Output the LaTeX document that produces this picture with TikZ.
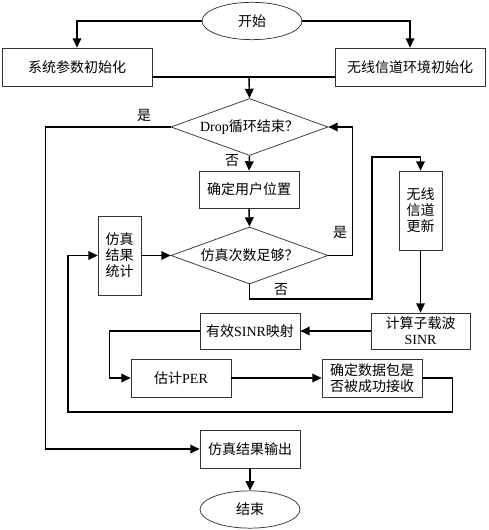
\documentclass[tikz,border=0pt]{standalone}
\usepackage{fontspec}
\setmainfont{Liberation Serif}
\newfontfamily\cjk{Noto Sans CJK SC}
\usetikzlibrary{arrows.meta, shapes.geometric}
\tikzset{
  box/.style = {rectangle, draw=black!80, line width=0.55pt, minimum width=75pt, minimum height=28.5pt, align=center, inner sep=0pt},
  widebox/.style = {box, minimum width=112.5pt},
  tallbox/.style = {box, minimum width=32.25pt, minimum height=59.25pt},
  term/.style = {ellipse, draw=black!80, line width=0.55pt, minimum width=75pt, minimum height=28pt, inner sep=0pt},
  cond/.style = {diamond, aspect=2.75, draw=black!80, line width=0.55pt, minimum width=117.75pt, minimum height=42.75pt, inner sep=0pt},
  conn/.style = {line width=1.1pt},
  arr/.style = {conn, -{Triangle[length=7pt, width=6.5pt]}},
  lbl/.style = {inner sep=0pt}
}

\begin{document}
\begin{tikzpicture}[x=0.75pt, y=-0.75pt, every node/.style={font=\cjk\fontsize{10.5}{12}\selectfont}]
\useasboundingbox (0,0) rectangle (488,530);
% Top
\node[term] (fcStart) at (252,21) {开始};
\node[widebox] (fcSys) at (77,67) {系统参数初始化};
\node[widebox] (fcChan) at (410,67) {无线信道环境初始化};

% Drop loop
\node[cond] (fcDrop) at (249.5,127) {{\rmfamily Drop}循环结束？};
\node[box, minimum height=27.75pt] (fcPos) at (249,189.5) {确定用户位置};
\node[cond] (fcEnough) at (249.5,255.5) {仿真次数足够？};
\node[tallbox] (fcStat) at (119.5,255.5) {仿真\\结果\\统计};
\node[tallbox] (fcUpd) at (420.5,210.5) {无线\\信道\\更新};

% Link level
\node[box, minimum width=74.25pt, minimum height=27pt] (fcSinr) at (420.5,331) {计算子载波\\{\rmfamily SINR}};
\node[box, minimum height=27pt] (fcEsm) at (250,331) {有效{\rmfamily SINR}映射};
\node[box] (fcPer) at (181,378) {估计{\rmfamily PER}};
\node[box] (fcRecv) at (372,378) {确定数据包是\\否被成功接收};

% Bottom
\node[box] (fcOut) at (250,449) {仿真结果输出};
\node[term] (fcStop) at (250,509.5) {结束};

% labels
\node[lbl] (lYes1) at (144,115) {是};
\node[lbl] (lNo1) at (232,161) {否};
\node[lbl] (lYes2) at (340,232) {是};
\node[lbl] (lNo2) at (281,290) {否};

% helper points
\coordinate (mJoin) at (249,77);
\coordinate (cUp1) at (372,299);
\coordinate (cUp2) at (372,157);
\coordinate (cBack) at (68,412);

% ----- ARROWS -----
\draw[arr] (fcStart.west) -| (fcSys.north);
\draw[arr] (fcStart.east) -| (fcChan.north);
% join of the two inits
\draw[conn] (fcSys.east |- mJoin) -- (fcChan.west |- mJoin);
\draw[arr] (mJoin) -- (fcDrop.north);
% Drop -> no
\draw[arr] (fcDrop.south) -- (fcPos.north);
\draw[arr] (fcPos.south) -- (fcEnough.north);
% enough -> yes, back to Drop
\draw[arr] (fcEnough.east) -- ++(24,0) |- (fcDrop.east);
% Drop -> yes, output
\draw[arr] (fcDrop.west) -- ++(-125,0) |- (fcOut.west);
% enough -> no, channel update
\draw[arr] (fcEnough.south) |- (cUp1) -- (cUp2) -| (fcUpd.north);
\draw[arr] (fcUpd.south) -- (fcSinr.north);
\draw[arr] (fcSinr.west) -- (fcEsm.east);
\draw[arr] (fcEsm.west) -- ++(-90,0) |- (fcPer.west);
\draw[arr] (fcPer.east) -- (fcRecv.west);
% back to statistics
\draw[arr] (fcRecv.east) -- ++(30,0) |- (cBack) |- (fcStat.west);
\draw[arr] (fcStat.east) -- (fcEnough.west);
\draw[arr] (fcOut.south) -- (fcStop.north);

\end{tikzpicture}
\end{document}
